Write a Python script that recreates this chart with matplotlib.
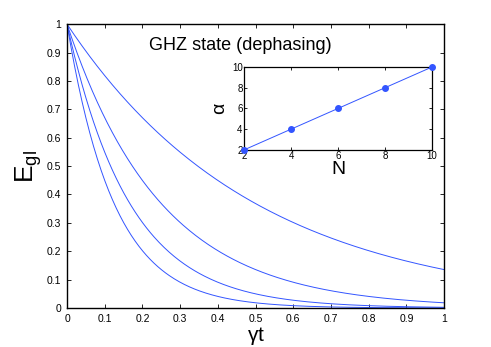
import numpy as np
import matplotlib
matplotlib.use('Agg')
import matplotlib.pyplot as plt

plt.rcParams['font.family'] = ['Liberation Sans', 'DejaVu Sans']
plt.rcParams['mathtext.fontset'] = 'custom'
plt.rcParams['mathtext.rm'] = 'Liberation Sans'
plt.rcParams['mathtext.it'] = 'Liberation Sans'

# decay rates of the curves shown in the main panel
rates = [2, 4, 6, 8]
# inset data: alpha vs N
N_vals = [2, 4, 6, 8, 10]
alpha_vals = [2, 4, 6, 8, 10]
main_ticks = [0, 0.1, 0.2, 0.3, 0.4, 0.5, 0.6, 0.7, 0.8, 0.9, 1]
main_ticklabels = ['0', '0.1', '0.2', '0.3', '0.4', '0.5', '0.6', '0.7', '0.8', '0.9', '1']
inset_ticks = [2, 4, 6, 8, 10]

blue = '#3355ff'

fig = plt.figure(figsize=(4.91, 3.47), dpi=100)
ax = fig.add_axes([0.1365, 0.1124, 0.768, 0.818])

t = np.linspace(0, 1, 300)
for r in rates:
    ax.plot(t, np.exp(-r * t), color=blue, lw=0.7)

ax.set_xlim(0, 1)
ax.set_ylim(0, 1)
ax.set_xticks(main_ticks)
ax.set_xticklabels(main_ticklabels)
ax.set_yticks(main_ticks)
ax.set_yticklabels(main_ticklabels)
ax.tick_params(direction='in', length=3, width=0.6, labelsize=7.5,
               top=True, right=True, pad=4)
for s in ax.spines.values():
    s.set_linewidth(1.0)
ax.set_xlabel(r'$\gamma$t', fontsize=15, labelpad=1)
ax.set_ylabel(r'$\mathrm{E}_{\mathrm{gl}}$', fontsize=19, labelpad=2)
ax.text(0.46, 0.925, 'GHZ state (dephasing)', transform=ax.transAxes,
        ha='center', va='center', fontsize=13)

ins = fig.add_axes([0.497, 0.568, 0.383, 0.239])
ins.plot(N_vals, alpha_vals, color=blue, lw=0.7, marker='o', ms=4,
         markerfacecolor=blue, markeredgecolor=blue, clip_on=False, zorder=5)
ins.set_xlim(2, 10)
ins.set_ylim(2, 10)
ins.set_xticks(inset_ticks)
ins.set_yticks(inset_ticks)
ins.tick_params(direction='in', length=2, width=0.6, labelsize=7,
                top=True, right=True, pad=1)
for s in ins.spines.values():
    s.set_linewidth(0.9)
ins.set_xlabel('N', fontsize=14, labelpad=0)
ins.set_ylabel(r'$\alpha$', fontsize=14, labelpad=2)

fig.savefig('out.png', dpi=100)
